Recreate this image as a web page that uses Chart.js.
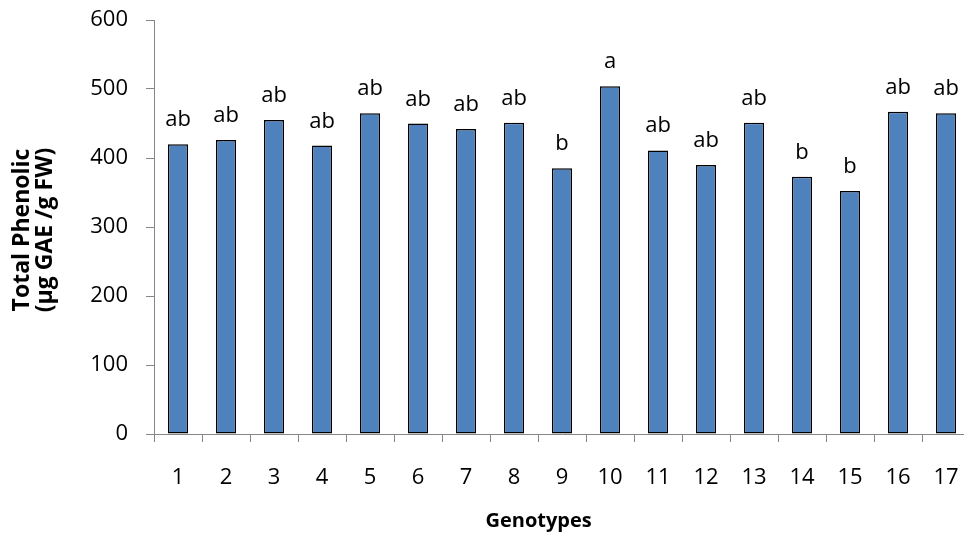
<!DOCTYPE html>
<html>
<head>
<meta charset="utf-8">
<script src="https://cdn.jsdelivr.net/npm/chart.js@4.4.1/dist/chart.umd.min.js"></script>
<style>
    html, body { margin: 0; padding: 0; background: #fff; overflow: hidden; }
    #wrap { width: 980px; height: 533px; }
</style>
</head>
<body>
<div id="wrap"><canvas id="phenolChart" width="980" height="533"></canvas></div>
<script>
const genotypes = ['1', '2', '3', '4', '5', '6', '7', '8', '9', '10', '11', '12', '13', '14', '15', '16', '17'];
const phenolic = [420, 426, 455, 418, 465, 450, 442, 451, 385, 504, 411, 390, 451, 373, 352, 467, 465];
const letters = ['ab', 'ab', 'ab', 'ab', 'ab', 'ab', 'ab', 'ab', 'b', 'a', 'ab', 'ab', 'ab', 'b', 'b', 'ab', 'ab'];
const yTicks = [0, 100, 200, 300, 400, 500, 600];

const fontFamily = "'Open Sans', sans-serif";
const axisGray = '#868686';

// letters over the bars, placed from the bar elements themselves
const letterPlugin = {
    id: 'letterPlugin',
    afterDatasetsDraw(chart) {
        const ctx = chart.ctx;
        const meta = chart.getDatasetMeta(0);
        ctx.save();
        ctx.font = '22px ' + fontFamily;
        ctx.fillStyle = '#000';
        ctx.textAlign = 'center';
        ctx.textBaseline = 'alphabetic';
        meta.data.forEach((bar, i) => {
            ctx.fillText(letters[i], bar.x, bar.y - 18);
        });
        ctx.restore();
    }
};

new Chart('phenolChart', {
    type: 'bar',
    data: {
        labels: genotypes,
        datasets: [{
            data: phenolic,
            backgroundColor: '#4F81BD',
            borderColor: '#000000',
            borderWidth: 1.5,
            borderSkipped: false,
            barPercentage: 0.42,
            categoryPercentage: 1.0
        }]
    },
    options: {
        responsive: false,
        animation: false,
        layout: { padding: { top: 20, right: 10, bottom: 0, left: 0 } },
        plugins: {
            legend: { display: false },
            tooltip: { enabled: false }
        },
        scales: {
            x: {
                grid: { display: true, drawOnChartArea: false, drawTicks: true, tickLength: 8, color: axisGray },
                border: { display: true, color: axisGray, width: 1 },
                ticks: { color: '#000', font: { family: fontFamily, size: 22 }, padding: 23, maxRotation: 0 },
                title: {
                    display: true,
                    text: 'Genotypes         ',
                    color: '#000',
                    font: { family: fontFamily, size: 20, weight: 'bold' },
                    padding: { top: 0, bottom: 0 }
                },
                afterFit(scale) {
                    scale.height = 99;
                    scale.paddingLeft = 0;
                    scale.paddingRight = 0;
                }
            },
            y: {
                min: 0,
                max: 600,
                afterBuildTicks(scale) { scale.ticks = yTicks.map(v => ({ value: v })); },
                grid: { display: true, drawOnChartArea: false, drawTicks: true, tickLength: 8, color: axisGray },
                border: { display: true, color: axisGray, width: 1 },
                ticks: { color: '#000', font: { family: fontFamily, size: 22 }, padding: 18 },
                title: {
                    display: true,
                    text: ['Total Phenolic ', '(µg GAE /g FW) '],
                    color: '#000',
                    font: { family: fontFamily, size: 23, weight: 'bold', lineHeight: 1.0 },
                    padding: { top: 11, bottom: 0 }
                },
                afterFit(scale) {
                    scale.width = 154;
                    scale.paddingTop = 0;
                    scale.paddingBottom = 0;
                }
            }
        }
    },
    plugins: [letterPlugin]
});
</script>
</body>
</html>
